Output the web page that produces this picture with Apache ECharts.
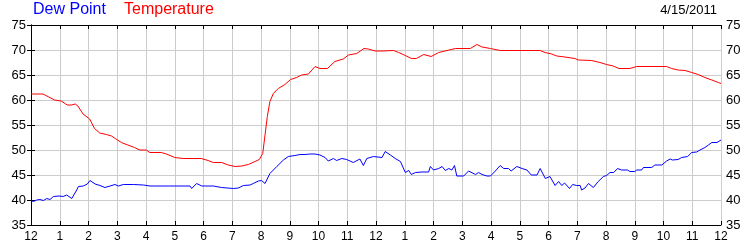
<!DOCTYPE html>
<html>
<head>
<meta charset="utf-8">
<script src="https://cdn.jsdelivr.net/npm/echarts@6/dist/echarts.min.js"></script>
<style>html,body{margin:0;padding:0;background:#fff}#c{width:750px;height:250px}</style>
</head>
<body>
<div id="c"></div>
<script>
// Hours since midnight (0..24) and readings
var tempHours = [0,0.42,0.62,0.82,1.05,1.26,1.4,1.54,1.63,1.81,2.04,2.21,2.39,2.62,2.8,2.93,3.14,3.37,3.6,3.78,4.01,4.13,4.53,4.71,5.0,5.29,5.92,6.16,6.34,6.63,6.86,7.1,7.33,7.56,7.79,7.94,8.06,8.14,8.22,8.31,8.43,8.6,8.83,9.03,9.24,9.41,9.65,9.88,10.05,10.31,10.57,10.86,11.04,11.33,11.58,11.73,11.97,12.21,12.61,12.79,13.02,13.23,13.4,13.66,13.92,14.18,14.47,14.76,15.28,15.51,15.69,15.98,16.32,17.08,17.71,17.88,18.11,18.29,18.57,18.92,19.04,19.5,19.79,20.02,20.25,20.45,20.83,21.07,22.11,22.28,22.51,22.75,22.98,23.21,23.44,23.68,23.91,24];
var tempValues = [61.2,61.2,60.6,60.0,59.8,59.0,59.0,59.2,58.8,57.2,56.2,54.3,53.4,53.1,52.8,52.3,51.5,51.0,50.5,50.0,50.0,49.5,49.5,49.2,48.5,48.3,48.3,47.9,47.5,47.5,47.0,46.7,46.8,47.1,47.7,48.1,49.3,53.0,56.7,59.7,61.3,62.3,63.1,64.1,64.5,65.0,65.2,66.7,66.3,66.3,67.7,68.2,69.0,69.3,70.3,70.2,69.8,69.8,69.9,69.5,68.9,68.3,68.3,69.1,68.7,69.5,69.9,70.3,70.3,71.1,70.6,70.3,69.9,69.9,69.9,69.5,69.2,68.8,68.6,68.3,68.0,67.9,67.5,67.1,66.8,66.3,66.3,66.7,66.7,66.3,66.0,65.9,65.5,65.1,64.5,64.0,63.5,63.3];
var dewHours = [0,0.08,0.2,0.31,0.43,0.55,0.66,0.78,0.98,1.12,1.24,1.42,1.59,1.65,1.82,1.88,1.96,2.05,2.23,2.4,2.57,2.75,2.92,3.04,3.21,3.56,3.91,4.14,4.83,4.89,5.0,5.53,5.59,5.76,5.94,6.34,6.63,7.04,7.21,7.39,7.62,7.73,7.91,8.02,8.14,8.31,8.55,8.78,8.95,9.18,9.36,9.53,9.7,9.88,10.05,10.23,10.34,10.52,10.63,10.81,10.98,11.21,11.44,11.56,11.68,11.91,12.21,12.32,12.5,12.67,12.85,13.02,13.14,13.23,13.37,13.6,13.83,13.89,14.0,14.18,14.3,14.41,14.53,14.64,14.73,14.81,15.05,15.22,15.46,15.57,15.69,15.75,15.86,15.98,16.15,16.32,16.44,16.61,16.7,16.9,17.08,17.25,17.4,17.6,17.71,17.89,18.05,18.23,18.35,18.46,18.56,18.73,18.84,18.98,19.1,19.15,19.27,19.39,19.56,19.73,19.91,20.02,20.14,20.27,20.4,20.54,20.75,20.83,21.0,21.07,21.24,21.3,21.59,21.7,21.94,22.11,22.23,22.31,22.51,22.63,22.84,22.98,23.15,23.27,23.44,23.56,23.68,23.86,24];
var dewValues = [39.9,39.7,40.0,40.1,39.9,40.3,40.1,40.7,40.8,40.7,41.0,40.3,42.0,42.7,42.8,43.2,43.2,43.9,43.2,42.9,42.5,42.8,43.1,42.8,43.1,43.1,43.0,42.8,42.8,43.1,42.8,42.8,42.3,43.3,42.8,42.8,42.5,42.3,42.4,42.9,43.0,43.3,43.8,43.9,43.3,45.3,46.7,48.0,48.7,48.9,49.1,49.1,49.2,49.2,49.0,48.5,47.8,48.3,47.9,48.3,48.1,47.5,48.2,46.9,48.3,48.7,48.5,49.7,49.0,48.3,47.7,45.5,45.9,45.1,45.5,45.6,45.6,46.7,46.0,46.3,46.7,45.9,46.3,46.0,46.9,44.8,44.8,45.8,45.1,45.5,45.1,45.5,44.8,44.8,45.8,46.9,46.3,46.3,45.8,46.7,46.3,46.0,45.0,45.0,46.3,44.3,44.7,42.9,43.7,42.9,43.4,42.3,43.1,42.9,42.9,42.0,42.4,43.3,42.5,43.7,44.7,44.9,45.5,45.5,46.3,46.0,46.0,45.7,45.7,46.0,46.0,46.5,46.5,47.0,47.0,47.8,48.2,48.0,48.1,48.5,48.7,49.5,49.6,50.0,50.5,51.0,51.5,51.5,52.0];
var hourLabels = ['12','1','2','3','4','5','6','7','8','9','10','11','12','1','2','3','4','5','6','7','8','9','10','11','12'];
var yMin = 35, yMax = 75, yStep = 5;
var dateText = '4/15/2011';
var legendNames = ['Dew Point', 'Temperature'];

function pairs(xs, ys){ return xs.map(function(x,i){ return [x, ys[i]]; }); }

var chart = echarts.init(document.getElementById('c'), null, {renderer:'canvas'});
var font = 'Liberation Sans, Arial, sans-serif';
var axisCommon = {
  axisLine:{show:true, lineStyle:{color:'#000', width:1}},
  axisTick:{show:true, inside:true, length:4, lineStyle:{color:'#000'}},
  splitLine:{show:true, lineStyle:{color:'#cccccc', width:1}}
};
chart.setOption({
  animation:false,
  backgroundColor:'#fff',
  grid:{left:31, right:29, top:25, bottom:25, containLabel:false},
  xAxis:[
    Object.assign({type:'value', position:'bottom', min:0, max:24, interval:1,
      axisLabel:{color:'#000', fontSize:12, fontFamily:font, margin:6,
        formatter:function(v){ return hourLabels[Math.round(v)]; }}}, axisCommon),
    Object.assign({type:'value', position:'top', min:0, max:24, interval:1,
      axisLabel:{show:false}}, axisCommon, {splitLine:{show:false}})
  ],
  yAxis:[
    Object.assign({type:'value', position:'left', min:yMin, max:yMax, interval:yStep,
      axisLabel:{color:'#000', fontSize:13, fontFamily:font, margin:5}}, axisCommon),
    Object.assign({type:'value', position:'right', min:yMin, max:yMax, interval:yStep,
      axisLabel:{color:'#000', fontSize:13, fontFamily:font, margin:5}}, axisCommon, {splitLine:{show:false}})
  ],
  graphic:[
    {type:'text', left:33, top:2, style:{text:legendNames[0], fill:'#0000ff', font:'16px '+font}},
    {type:'text', left:124, top:2, style:{text:legendNames[1], fill:'#ff0000', font:'16px '+font}},
    {type:'text', right:33, top:4, style:{text:dateText, fill:'#000', font:'13px '+font}}
  ],
  series:[
    {name:legendNames[0], type:'line', xAxisIndex:0, yAxisIndex:0, data:pairs(dewHours, dewValues),
      showSymbol:false, symbol:'none', lineStyle:{color:'#0000ff', width:1}},
    {name:legendNames[1], type:'line', xAxisIndex:0, yAxisIndex:0, data:pairs(tempHours, tempValues),
      showSymbol:false, symbol:'none', lineStyle:{color:'#ff0000', width:1}}
  ]
});
</script>
</body>
</html>
